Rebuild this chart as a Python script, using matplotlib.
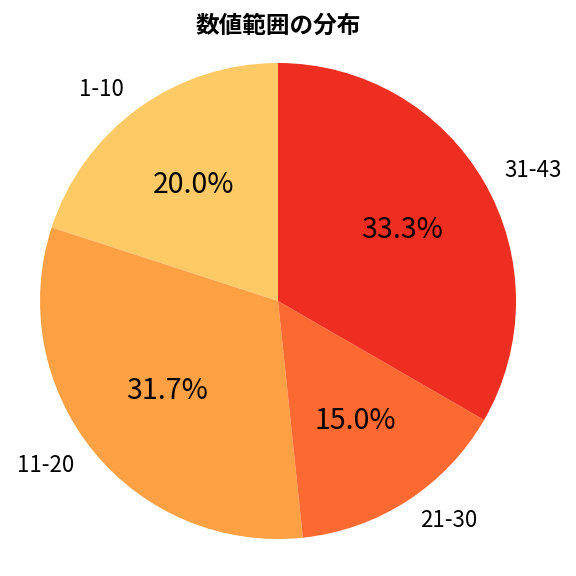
import numpy as np
import matplotlib
matplotlib.use('Agg')
from matplotlib import pyplot as plt

plt.rcParams['font.family'] = ['Noto Sans CJK JP', 'DejaVu Sans']

labels = ['1-10', '11-20', '21-30', '31-43']
counts = [12, 19, 9, 20]
title = '数値範囲の分布'

colors = plt.cm.YlOrRd(np.linspace(0.3, 0.7, len(labels)))

fig = plt.figure(figsize=(5.76, 5.76), dpi=100)
# pie radius 238 px, centre at (278, 275) from bottom-left
size = 2.5 * 238 / 576
ax = fig.add_axes([278 / 576 - size / 2, 275 / 576 - size / 2, size, size])
wedges, texts, autotexts = ax.pie(counts, labels=labels, colors=colors, startangle=90,
                                  autopct='%1.1f%%', textprops={'fontsize': 16})
for t in autotexts:
    t.set_fontsize(20.5)
ax.set_aspect('equal')
fig.text(278 / 576, 1 - 26 / 576, title, ha='center', va='center',
         fontsize=17, fontweight='bold')

fig.savefig('out.png', dpi=100)
